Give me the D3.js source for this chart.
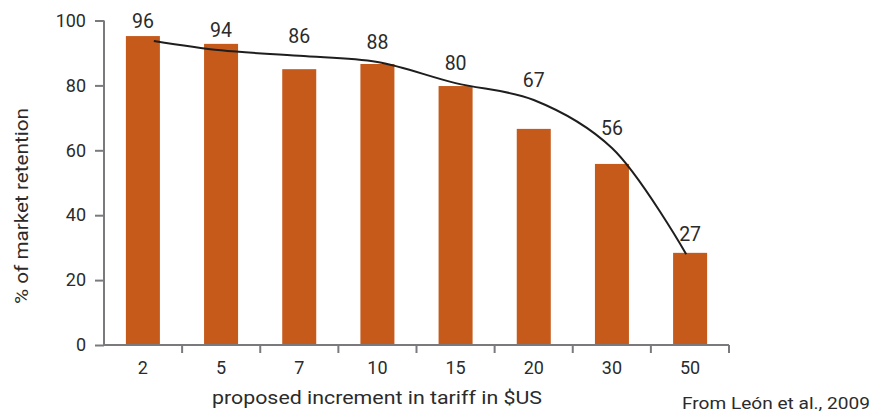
<!DOCTYPE html>
<html>
<head>
<meta charset="utf-8">
<script src="https://cdnjs.cloudflare.com/ajax/libs/d3/7.8.5/d3.min.js"></script>
<style>
  body { margin: 0; background: #fff; }
  text { font-family: Roboto, "Noto Sans", sans-serif; fill: #2b2b2b; }
</style>
</head>
<body>
<svg id="chart" width="879" height="412"></svg>
<script>
// tariff increments (US$) and the retention shares
const categories = ["2", "5", "7", "10", "15", "20", "30", "50"];
const barValues = [95.2, 92.8, 85, 86.6, 79.8, 66.6, 55.8, 28.4];
const labelValues = [96, 94, 86, 88, 80, 67, 56, 27];
// smoothed trend drawn over the bars (position along the category axis, value)
const trendPos = [0.14, 1, 2, 3, 4, 5, 6, 6.95];
const trendValues = [93.7, 90.8, 89.1, 87.2, 80.7, 75.5, 60.7, 28.0];
const yTicks = [0, 20, 40, 60, 80, 100];

const svg = d3.select("#chart");
const plotLeft = 104, plotRight = 729, plotTop = 20.5, plotBottom = 345;

const x = d3.scaleBand()
    .domain(categories)
    .range([plotLeft, plotRight])
    .paddingInner(0.565)
    .paddingOuter(0.28);

const y = d3.scaleLinear().domain([0, 100]).range([plotBottom, plotTop]);

// position along categories -> pixel, using band centres
const step = x.step();
const x0 = x(categories[0]) + x.bandwidth() / 2;
const xPos = d => x0 + d * step;

const axisColor = "#7a7a7e";

// bars
svg.append("g")
    .selectAll("rect")
    .data(categories)
    .join("rect")
    .attr("x", d => x(d))
    .attr("width", x.bandwidth())
    .attr("y", (d, i) => y(barValues[i]))
    .attr("height", (d, i) => y(0) - y(barValues[i]))
    .attr("fill", "#c55a1b");

// y axis
const yAxis = svg.append("g")
    .attr("transform", `translate(${plotLeft},0)`)
    .call(d3.axisLeft(y).tickValues(yTicks).tickSize(9).tickPadding(9));
yAxis.select(".domain").attr("d", `M0,${plotTop}V${plotBottom}`);
yAxis.selectAll("line, path").attr("stroke", axisColor).attr("stroke-width", 2);
yAxis.selectAll("text").attr("font-size", 18).attr("fill", "#2b2b2b")
    .attr("font-family", "Roboto, sans-serif");

// x axis: ticks sit between the bars
const boundaries = d3.range(categories.length)
    .map(i => plotLeft + (i + 1) * (plotRight - plotLeft) / categories.length);
const xg = svg.append("g");
xg.append("line")
    .attr("x1", plotLeft - 1).attr("x2", plotRight)
    .attr("y1", plotBottom).attr("y2", plotBottom);
xg.selectAll(".tk")
    .data(boundaries)
    .join("line")
    .attr("class", "tk")
    .attr("x1", d => d).attr("x2", d => d)
    .attr("y1", plotBottom).attr("y2", plotBottom + 8);
xg.selectAll("line").attr("stroke", axisColor).attr("stroke-width", 2);
xg.selectAll(".lbl")
    .data(categories)
    .join("text")
    .attr("class", "lbl")
    .attr("x", d => x(d) + x.bandwidth() / 2)
    .attr("y", 374)
    .attr("text-anchor", "middle")
    .attr("font-size", 18)
    .text(d => d);

// trend line
const line = d3.line()
    .x((d, i) => xPos(trendPos[i]))
    .y(d => y(d))
    .curve(d3.curveCatmullRom.alpha(0.5));

svg.append("path")
    .datum(trendValues)
    .attr("d", line)
    .attr("fill", "none")
    .attr("stroke", "#1e1e1e")
    .attr("stroke-width", 2);

// value labels, sitting above the trend
svg.append("g")
    .selectAll("text")
    .data(labelValues)
    .join("text")
    .attr("x", (d, i) => x(categories[i]) + x.bandwidth() / 2)
    .attr("y", (d, i) => y(trendValues[i]) - 13)
    .attr("text-anchor", "middle")
    .attr("font-size", 19.5)
    .text(d => d);

// axis titles
svg.append("text")
    .attr("transform", "translate(28,206) rotate(-90)")
    .attr("text-anchor", "middle")
    .attr("font-size", 17.5)
    .attr("textLength", 196)
    .attr("lengthAdjust", "spacingAndGlyphs")
    .text("% of market retention");

svg.append("text")
    .attr("x", 377)
    .attr("y", 404)
    .attr("text-anchor", "middle")
    .attr("font-size", 18)
    .attr("textLength", 330)
    .attr("lengthAdjust", "spacingAndGlyphs")
    .text("proposed increment in tariff in $US");

svg.append("text")
    .attr("x", 682)
    .attr("y", 409)
    .attr("font-size", 17)
    .attr("textLength", 188)
    .attr("lengthAdjust", "spacingAndGlyphs")
    .text("From León et al., 2009");
</script>
</body>
</html>
